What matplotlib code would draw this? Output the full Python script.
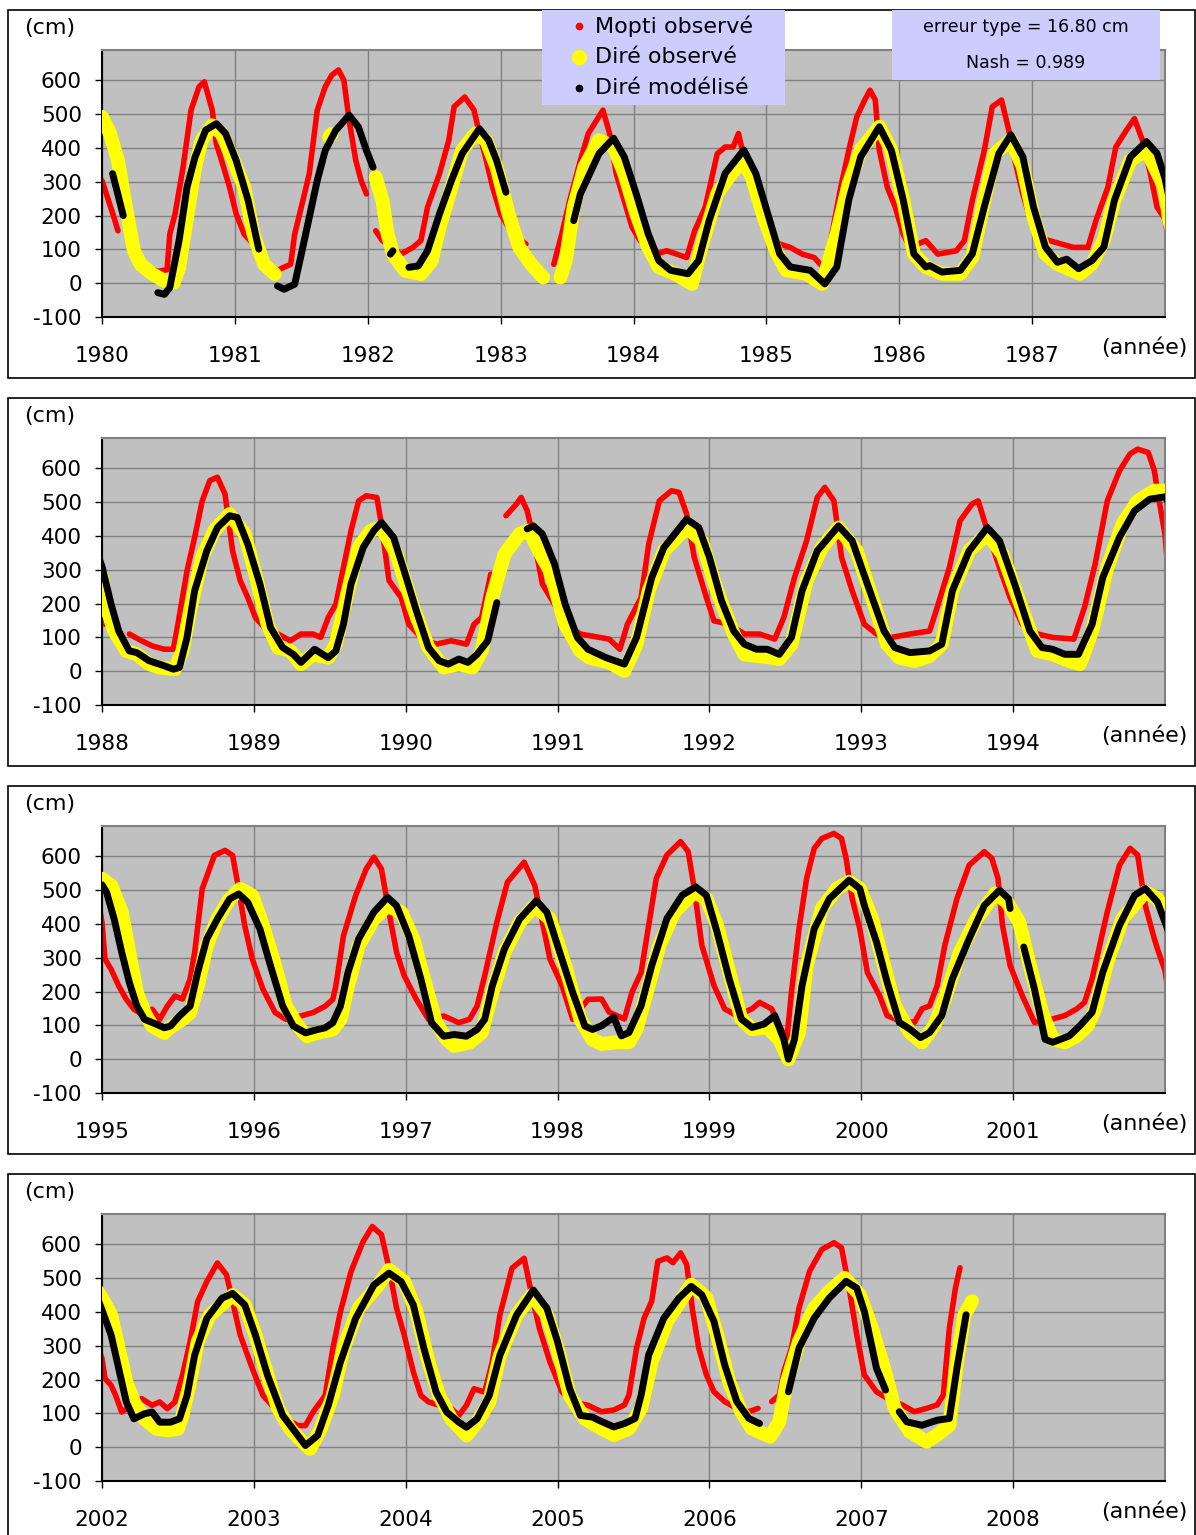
import numpy as np
import matplotlib.pyplot as plt
from matplotlib.patches import Rectangle
from matplotlib.lines import Line2D

plt.rcParams['axes.unicode_minus'] = False

# Water levels (cm): (decimal year, level); None marks a gap in the record
mopti_obs = [
    (1980.00, 304), (1980.09, 195), (1980.12, 155), None,
    (1980.35, 45), (1980.42, 35), (1980.49, 40), (1980.51, 145), (1980.55, 205), (1980.61, 343),
    (1980.67, 512), (1980.73, 581), (1980.77, 596), (1980.83, 512), (1980.86, 413), (1980.90, 363),
    (1980.96, 284), (1981.01, 205), (1981.07, 145), (1981.13, 120), None,
    (1981.34, 42), (1981.42, 56), (1981.45, 145), (1981.50, 225), (1981.56, 324), (1981.62, 512),
    (1981.68, 581), (1981.73, 616), (1981.78, 631), (1981.82, 601), (1981.86, 482), (1981.91, 363),
    (1981.95, 304), (1981.99, 264), None,
    (1982.06, 155), (1982.11, 126), (1982.25, 86), (1982.34, 106), (1982.40, 126), (1982.45, 225),
    (1982.54, 324), (1982.61, 423), (1982.65, 522), (1982.73, 551), (1982.80, 512), (1982.84, 442),
    (1982.88, 383), (1982.94, 284), (1983.00, 205), (1983.09, 145), (1983.19, 116), None,
    (1983.40, 56), (1983.46, 145), (1983.52, 245), (1983.60, 363), (1983.66, 443), (1983.77, 512),
    (1983.82, 443), (1983.87, 324), (1983.93, 245), (1983.99, 165), (1984.05, 126), (1984.17, 86),
    (1984.25, 96), (1984.40, 76), (1984.46, 155), (1984.54, 225), (1984.63, 383), (1984.69, 403),
    (1984.75, 403), (1984.79, 443), (1984.83, 374), (1984.89, 284), (1984.95, 205), (1985.01, 145),
    (1985.10, 116), (1985.18, 106), (1985.27, 86), (1985.36, 76), (1985.43, 46), (1985.47, 96),
    (1985.56, 284), (1985.62, 393), (1985.68, 492), (1985.74, 542), (1985.78, 571), (1985.82, 542),
    (1985.85, 393), (1985.91, 284), (1985.97, 225), (1986.03, 145), (1986.08, 106), (1986.20, 126),
    (1986.29, 86), (1986.43, 96), (1986.49, 126), (1986.55, 245), (1986.64, 393), (1986.70, 522),
    (1986.77, 542), (1986.83, 443), (1986.87, 363), (1986.93, 264), (1986.99, 185), (1987.04, 136),
    (1987.22, 116), (1987.31, 106), (1987.42, 106), (1987.48, 185), (1987.57, 284), (1987.63, 403),
    (1987.71, 453), (1987.77, 487), (1987.83, 423), (1987.89, 324), (1987.94, 225), (1988.00, 190),
    (1988.02, 139), None,
    (1988.18, 110), (1988.26, 90), (1988.33, 75), (1988.41, 65), (1988.47, 65), (1988.50, 139),
    (1988.56, 297), (1988.61, 396), (1988.66, 504), (1988.71, 564), (1988.76, 574), (1988.81, 524),
    (1988.86, 356), (1988.91, 268), (1988.96, 218), (1989.01, 159), (1989.09, 119), (1989.16, 110),
    (1989.24, 90), (1989.31, 110), (1989.39, 110), (1989.44, 100), (1989.49, 159), (1989.54, 198),
    (1989.59, 307), (1989.64, 416), (1989.69, 504), (1989.74, 519), (1989.81, 514), (1989.84, 435),
    (1989.89, 268), (1989.97, 218), (1990.02, 139), (1990.10, 100), (1990.20, 80), (1990.30, 90),
    (1990.40, 80), (1990.45, 139), (1990.50, 159), (1990.56, 287), None,
    (1990.66, 460), (1990.73, 495), (1990.76, 514), (1990.80, 475), (1990.85, 376), (1990.90, 258),
    (1990.98, 198), (1991.05, 139), (1991.15, 110), (1991.34, 95), (1991.41, 65), (1991.46, 139),
    (1991.55, 218), (1991.60, 376), (1991.67, 504), (1991.75, 534), (1991.80, 529), (1991.85, 465),
    (1991.90, 337), (1991.98, 218), (1992.03, 149), (1992.13, 139), (1992.23, 110), (1992.33, 110),
    (1992.43, 95), (1992.49, 159), (1992.56, 277), (1992.64, 386), (1992.71, 514), (1992.76, 544),
    (1992.82, 504), (1992.87, 337), (1992.94, 238), (1993.02, 139), (1993.10, 110), (1993.20, 100),
    (1993.32, 110), (1993.45, 119), (1993.50, 189), (1993.58, 307), (1993.65, 445), (1993.73, 495),
    (1993.77, 504), (1993.83, 416), (1993.91, 307), (1993.98, 218), (1994.06, 139), (1994.16, 110),
    (1994.26, 100), (1994.40, 95), (1994.47, 189), (1994.54, 317), (1994.62, 504), (1994.70, 593),
    (1994.77, 643), (1994.82, 657), (1994.89, 647), (1994.93, 593), (1994.95, 534), (1995.00, 405),
    (1995.02, 296), (1995.06, 266), (1995.11, 217), (1995.16, 177), (1995.21, 148), (1995.28, 128),
    (1995.33, 148), (1995.38, 118), (1995.43, 157), (1995.48, 187), (1995.53, 178), (1995.58, 237),
    (1995.61, 316), (1995.66, 504), (1995.74, 603), (1995.81, 618), (1995.86, 603), (1995.90, 504),
    (1995.94, 395), (1995.99, 296), (1996.06, 207), (1996.14, 138), (1996.21, 118), (1996.31, 128),
    (1996.39, 138), (1996.47, 157), (1996.52, 177), (1996.54, 217), (1996.59, 365), (1996.67, 484),
    (1996.74, 563), (1996.79, 598), (1996.84, 563), (1996.89, 435), (1996.94, 316), (1996.99, 247),
    (1997.07, 177), (1997.15, 118), (1997.25, 128), (1997.35, 108), (1997.42, 118), (1997.47, 157),
    (1997.52, 247), (1997.60, 405), (1997.67, 524), (1997.78, 583), (1997.85, 514), (1997.90, 405),
    (1997.95, 296), (1998.03, 217), (1998.10, 118), (1998.20, 177), (1998.29, 178), (1998.34, 139),
    (1998.44, 119), (1998.49, 198), (1998.55, 257), (1998.60, 396), (1998.65, 535), (1998.72, 604),
    (1998.81, 644), (1998.86, 614), (1998.90, 505), (1998.95, 337), (1999.03, 218), (1999.10, 149),
    (1999.18, 129), (1999.28, 149), (1999.33, 168), (1999.41, 149), (1999.46, 99), (1999.51, 59),
    (1999.54, 198), (1999.59, 386), (1999.64, 535), (1999.69, 624), (1999.74, 653), (1999.82, 668),
    (1999.87, 653), (1999.90, 594), (1999.94, 475), (1999.99, 386), (2000.04, 257), (2000.12, 188),
    (2000.17, 129), (2000.25, 114), (2000.35, 109), (2000.40, 149), (2000.45, 158), (2000.50, 218),
    (2000.55, 337), (2000.63, 475), (2000.71, 574), (2000.76, 594), (2000.81, 614), (2000.86, 594),
    (2000.90, 535), (2000.93, 396), (2000.98, 277), (2001.06, 188), (2001.14, 109), (2001.26, 119),
    (2001.34, 129), (2001.42, 149), (2001.47, 168), (2001.52, 238), (2001.57, 337), (2001.62, 436),
    (2001.70, 574), (2001.77, 624), (2001.82, 604), (2001.87, 455), (2001.93, 356), (2001.95, 327),
    (2002.00, 262), (2002.02, 203), (2002.06, 183), (2002.09, 153), (2002.13, 104), (2002.26, 144),
    (2002.33, 124), (2002.38, 134), (2002.43, 114), (2002.48, 134), (2002.53, 213), (2002.58, 312),
    (2002.63, 431), (2002.69, 490), (2002.76, 545), (2002.82, 510), (2002.86, 431), (2002.91, 332),
    (2002.99, 233), (2003.06, 153), (2003.14, 114), (2003.21, 84), (2003.29, 64), (2003.34, 64),
    (2003.39, 104), (2003.47, 153), (2003.52, 292), (2003.57, 401), (2003.64, 520), (2003.72, 609),
    (2003.78, 653), (2003.84, 629), (2003.89, 530), (2003.94, 411), (2003.99, 332), (2004.05, 223),
    (2004.10, 153), (2004.15, 134), (2004.22, 124), (2004.30, 114), (2004.35, 94), (2004.40, 124),
    (2004.45, 173), (2004.52, 163), (2004.57, 252), (2004.62, 391), (2004.70, 530), (2004.78, 559),
    (2004.83, 450), (2004.88, 352), (2004.95, 252), (2005.03, 163), (2005.10, 134), (2005.20, 124),
    (2005.29, 105), (2005.37, 110), (2005.44, 125), (2005.47, 154), (2005.52, 293), (2005.57, 382),
    (2005.62, 432), (2005.66, 550), (2005.72, 560), (2005.76, 546), (2005.81, 575), (2005.85, 541),
    (2005.89, 402), (2005.93, 293), (2005.98, 214), (2006.03, 164), (2006.10, 135), (2006.18, 115),
    (2006.26, 105), (2006.32, 115), None,
    (2006.41, 135), (2006.46, 154), (2006.49, 224), (2006.54, 293), (2006.59, 412), (2006.66, 521),
    (2006.74, 585), (2006.82, 605), (2006.87, 590), (2006.92, 471), (2006.97, 333), (2007.02, 214),
    (2007.10, 164), (2007.17, 145), (2007.27, 125), (2007.35, 105), (2007.43, 115), (2007.50, 125),
    (2007.54, 154), (2007.58, 352), (2007.62, 471), (2007.65, 531),
]

dire_obs = [
    (1980.00, 492), (1980.06, 443), (1980.12, 363), (1980.18, 225), (1980.24, 96), (1980.29, 56),
    (1980.38, 27), (1980.47, 7), (1980.54, 2), (1980.58, 46), (1980.64, 195), (1980.70, 343),
    (1980.75, 423), (1980.83, 467), (1980.90, 443), (1980.98, 373), (1981.07, 284), (1981.14, 145),
    (1981.22, 56), (1981.30, 27), None,
    (1981.71, 432), (1981.73, 442), None,
    (1982.06, 314), (1982.11, 245), (1982.15, 145), (1982.19, 86), (1982.28, 37), (1982.40, 27),
    (1982.48, 66), (1982.54, 165), (1982.63, 284), (1982.71, 393), (1982.81, 443), (1982.89, 423),
    (1982.97, 343), (1983.06, 205), (1983.14, 106), (1983.23, 56), (1983.32, 17), None,
    (1983.45, 17), (1983.49, 66), (1983.55, 225), (1983.63, 343), (1983.74, 423), (1983.85, 404),
    (1983.93, 325), (1984.02, 206), (1984.11, 107), (1984.19, 48), (1984.31, 28), (1984.44, -2),
    (1984.51, 107), (1984.63, 265), (1984.72, 315), (1984.82, 364), (1984.89, 315), (1984.98, 196),
    (1985.07, 97), (1985.15, 38), (1985.30, 28), (1985.42, -2), (1985.53, 147), (1985.62, 295),
    (1985.71, 394), (1985.85, 463), (1985.94, 394), (1986.03, 246), (1986.11, 87), (1986.20, 48),
    (1986.32, 28), (1986.46, 28), (1986.55, 77), (1986.64, 246), (1986.72, 384), (1986.84, 424),
    (1986.93, 345), (1987.01, 196), (1987.10, 87), (1987.19, 57), (1987.36, 28), (1987.45, 57),
    (1987.54, 127), (1987.62, 246), (1987.74, 364), (1987.86, 394), (1987.92, 345), (1988.00, 280),
    (1988.03, 189), (1988.08, 119), (1988.16, 60), (1988.23, 50), (1988.31, 21), (1988.38, 11),
    (1988.48, 6), (1988.53, 60), (1988.58, 179), (1988.66, 337), (1988.74, 416), (1988.84, 465),
    (1988.94, 406), (1989.01, 287), (1989.09, 139), (1989.16, 70), (1989.24, 60), (1989.31, 21),
    (1989.39, 50), (1989.49, 40), (1989.54, 80), (1989.62, 238), (1989.69, 366), (1989.77, 416),
    (1989.84, 425), (1989.94, 346), (1990.05, 189), (1990.15, 70), (1990.25, 11), (1990.35, 21),
    (1990.44, 11), (1990.50, 60), (1990.57, 218), (1990.65, 346), (1990.75, 406), (1990.81, 416),
    (1990.90, 337), (1990.95, 297), (1991.05, 139), (1991.15, 60), (1991.21, 40), (1991.34, 26),
    (1991.44, 1), (1991.52, 80), (1991.60, 238), (1991.70, 356), (1991.85, 425), (1991.95, 386),
    (1992.05, 238), (1992.16, 110), (1992.23, 50), (1992.31, 45), (1992.41, 40), (1992.46, 36),
    (1992.54, 80), (1992.64, 268), (1992.74, 366), (1992.85, 425), (1992.97, 356), (1993.07, 218),
    (1993.17, 80), (1993.25, 40), (1993.35, 30), (1993.45, 45), (1993.53, 80), (1993.60, 238),
    (1993.71, 356), (1993.83, 406), (1993.93, 346), (1994.04, 208), (1994.16, 60), (1994.26, 50),
    (1994.37, 30), (1994.44, 21), (1994.52, 119), (1994.62, 307), (1994.72, 435), (1994.82, 504),
    (1994.93, 534), (1995.00, 534), (1995.06, 514), (1995.13, 435), (1995.18, 316), (1995.23, 197),
    (1995.28, 138), (1995.33, 98), (1995.41, 78), (1995.46, 98), (1995.53, 118), (1995.58, 138),
    (1995.63, 217), (1995.69, 336), (1995.76, 415), (1995.84, 474), (1995.91, 504), (1995.99, 484),
    (1996.06, 395), (1996.14, 276), (1996.21, 157), (1996.29, 98), (1996.35, 68), (1996.42, 78),
    (1996.52, 88), (1996.57, 118), (1996.62, 217), (1996.69, 336), (1996.79, 415), (1996.88, 454),
    (1996.97, 435), (1997.05, 356), (1997.12, 237), (1997.20, 108), (1997.27, 58), (1997.32, 39),
    (1997.42, 49), (1997.50, 78), (1997.57, 197), (1997.65, 316), (1997.75, 405), (1997.85, 454),
    (1997.95, 415), (1998.05, 276), (1998.15, 118), (1998.23, 58), (1998.29, 45), (1998.39, 50),
    (1998.47, 50), (1998.52, 89), (1998.60, 218), (1998.67, 337), (1998.77, 436), (1998.90, 495),
    (1998.98, 475), (1999.05, 396), (1999.13, 257), (1999.21, 119), (1999.28, 89), (1999.38, 94),
    (1999.46, 59), (1999.52, 0), (1999.59, 79), (1999.64, 277), (1999.74, 446), (1999.84, 505),
    (1999.92, 525), (1999.99, 505), (2000.07, 416), (2000.15, 277), (2000.22, 158), (2000.32, 79),
    (2000.40, 50), (2000.48, 99), (2000.55, 178), (2000.65, 317), (2000.76, 416), (2000.88, 490),
    (2000.96, 465), (2001.04, 406), (2001.11, 277), (2001.19, 139), (2001.26, 59), (2001.34, 50),
    (2001.42, 69), (2001.49, 99), (2001.54, 149), (2001.62, 287), (2001.72, 416), (2001.87, 495),
    (2001.95, 475), (2002.00, 441), (2002.06, 391), (2002.11, 292), (2002.16, 193), (2002.21, 134),
    (2002.28, 84), (2002.36, 54), (2002.43, 50), (2002.50, 54), (2002.53, 94), (2002.58, 193),
    (2002.63, 312), (2002.71, 391), (2002.86, 450), (2002.94, 421), (2003.01, 332), (2003.09, 213),
    (2003.16, 114), (2003.24, 54), (2003.31, 20), (2003.37, -5), (2003.44, 54), (2003.52, 153),
    (2003.59, 292), (2003.69, 411), (2003.82, 480), (2003.89, 525), (2003.99, 490), (2004.07, 401),
    (2004.15, 252), (2004.22, 153), (2004.30, 84), (2004.40, 35), (2004.47, 74), (2004.55, 134),
    (2004.62, 272), (2004.73, 391), (2004.83, 450), (2004.93, 391), (2005.00, 292), (2005.08, 153),
    (2005.18, 84), (2005.29, 55), (2005.37, 36), (2005.47, 55), (2005.55, 115), (2005.62, 253),
    (2005.72, 372), (2005.88, 481), (2005.98, 442), (2006.05, 333), (2006.13, 194), (2006.21, 105),
    (2006.28, 55), (2006.40, 31), (2006.46, 75), (2006.51, 194), (2006.59, 313), (2006.69, 412),
    (2006.79, 461), (2006.89, 501), (2006.99, 451), (2007.07, 352), (2007.15, 234), (2007.22, 115),
    (2007.32, 46), (2007.43, 16), (2007.50, 36), (2007.58, 65), (2007.63, 253), (2007.68, 392),
    (2007.73, 432),
]

dire_model = [
    (1980.08, 324), (1980.16, 200), None,
    (1980.42, -28), (1980.47, -33), (1980.51, -13), (1980.58, 126), (1980.64, 284), (1980.70, 373),
    (1980.78, 453), (1980.86, 472), (1980.93, 443), (1981.01, 363), (1981.10, 245), (1981.18, 101), None,
    (1981.32, -8), (1981.37, -18), (1981.45, -3), (1981.50, 86), (1981.56, 195), (1981.62, 304),
    (1981.68, 393), (1981.76, 453), (1981.86, 497), (1981.93, 462), (1981.99, 393), (1982.04, 343), None,
    (1982.17, 86), (1982.19, 96), None,
    (1982.31, 47), (1982.38, 51), (1982.45, 96), (1982.54, 205), (1982.63, 304), (1982.71, 383),
    (1982.84, 457), (1982.91, 423), (1982.97, 363), (1983.04, 269), None,
    (1983.55, 185), (1983.60, 264), (1983.74, 383), (1983.85, 429), (1983.93, 374), (1984.02, 265),
    (1984.11, 147), (1984.19, 67), (1984.28, 38), (1984.41, 28), (1984.49, 67), (1984.57, 186),
    (1984.69, 325), (1984.83, 394), (1984.92, 325), (1985.01, 206), (1985.10, 87), (1985.18, 48),
    (1985.33, 38), (1985.44, -2), (1985.53, 48), (1985.62, 246), (1985.71, 374), (1985.85, 463),
    (1985.94, 394), (1986.03, 246), (1986.11, 87), (1986.20, 48), (1986.23, 52), (1986.32, 33),
    (1986.46, 38), (1986.55, 87), (1986.64, 226), (1986.75, 384), (1986.84, 439), (1986.93, 374),
    (1987.01, 226), (1987.10, 107), (1987.19, 62), (1987.26, 71), (1987.35, 43), (1987.45, 67),
    (1987.54, 107), (1987.62, 246), (1987.74, 374), (1987.86, 419), (1987.94, 384), (1988.00, 310),
    (1988.06, 198), (1988.11, 119), (1988.18, 60), (1988.23, 55), (1988.31, 31), (1988.41, 16),
    (1988.47, 6), (1988.51, 11), (1988.56, 100), (1988.61, 238), (1988.69, 356), (1988.76, 425),
    (1988.84, 460), (1988.89, 455), (1988.96, 376), (1989.04, 258), (1989.11, 129), (1989.19, 70),
    (1989.26, 50), (1989.31, 26), (1989.40, 65), (1989.49, 40), (1989.54, 60), (1989.59, 139),
    (1989.64, 258), (1989.72, 366), (1989.79, 416), (1989.84, 440), (1989.92, 396), (1989.99, 297),
    (1990.07, 179), (1990.15, 70), (1990.22, 31), (1990.28, 21), (1990.35, 36), (1990.41, 26),
    (1990.47, 50), (1990.54, 90), (1990.60, 203), None,
    (1990.80, 421), (1990.84, 430), (1990.90, 406), (1990.98, 317), (1991.05, 198), (1991.13, 100),
    (1991.20, 65), (1991.32, 40), (1991.44, 21), (1991.52, 100), (1991.62, 277), (1991.70, 366),
    (1991.85, 450), (1991.93, 425), (1992.00, 337), (1992.08, 208), (1992.16, 119), (1992.23, 80),
    (1992.31, 65), (1992.38, 65), (1992.46, 50), (1992.54, 100), (1992.61, 238), (1992.71, 356),
    (1992.85, 430), (1992.94, 386), (1993.04, 258), (1993.15, 119), (1993.22, 70), (1993.32, 55),
    (1993.45, 60), (1993.53, 80), (1993.60, 238), (1993.71, 356), (1993.83, 425), (1993.91, 386),
    (1994.01, 258), (1994.11, 119), (1994.19, 70), (1994.26, 65), (1994.34, 50), (1994.43, 50),
    (1994.52, 139), (1994.59, 277), (1994.70, 396), (1994.80, 475), (1994.90, 509), (1995.00, 516),
    (1995.03, 494), (1995.08, 415), (1995.13, 316), (1995.18, 227), (1995.23, 157), (1995.28, 118),
    (1995.36, 103), (1995.41, 93), (1995.45, 98), (1995.51, 128), (1995.58, 157), (1995.63, 257),
    (1995.69, 356), (1995.76, 415), (1995.84, 474), (1995.90, 489), (1995.96, 464), (1996.04, 385),
    (1996.11, 276), (1996.19, 157), (1996.26, 98), (1996.34, 78), (1996.42, 88), (1996.47, 93),
    (1996.52, 108), (1996.57, 157), (1996.62, 257), (1996.69, 356), (1996.79, 435), (1996.88, 479),
    (1996.94, 454), (1997.02, 365), (1997.10, 237), (1997.17, 108), (1997.25, 68), (1997.32, 73),
    (1997.40, 68), (1997.47, 88), (1997.52, 118), (1997.57, 217), (1997.65, 326), (1997.75, 415),
    (1997.86, 469), (1997.93, 435), (1998.00, 336), (1998.10, 197), (1998.18, 98), (1998.23, 88),
    (1998.29, 99), (1998.37, 124), (1998.42, 69), (1998.47, 79), (1998.55, 158), (1998.62, 277),
    (1998.72, 416), (1998.82, 485), (1998.91, 510), (1998.98, 485), (1999.05, 376), (1999.13, 238),
    (1999.21, 119), (1999.28, 94), (1999.36, 104), (1999.43, 129), (1999.49, 59), (1999.52, 0),
    (1999.56, 59), (1999.61, 218), (1999.69, 386), (1999.79, 475), (1999.92, 530), (1999.99, 505),
    (2000.02, 455), (2000.10, 347), (2000.17, 228), (2000.25, 109), (2000.32, 89), (2000.39, 64),
    (2000.45, 79), (2000.53, 129), (2000.60, 238), (2000.71, 356), (2000.81, 455), (2000.91, 500),
    (2000.97, 475), (2000.98, 446), None,
    (2001.07, 332), (2001.14, 208), (2001.21, 59), (2001.26, 50), (2001.37, 69), (2001.44, 99),
    (2001.52, 139), (2001.59, 257), (2001.70, 396), (2001.80, 485), (2001.87, 505), (2001.95, 465),
    (2002.00, 406), (2002.06, 332), (2002.11, 233), (2002.16, 134), (2002.21, 84), (2002.28, 99),
    (2002.33, 104), (2002.38, 74), (2002.45, 74), (2002.51, 84), (2002.56, 153), (2002.61, 272),
    (2002.69, 381), (2002.79, 441), (2002.86, 455), (2002.94, 421), (2003.01, 332), (2003.09, 213),
    (2003.19, 94), (2003.29, 35), (2003.34, 5), (2003.42, 35), (2003.49, 124), (2003.57, 252),
    (2003.67, 381), (2003.79, 480), (2003.89, 515), (2003.97, 490), (2004.05, 421), (2004.12, 292),
    (2004.20, 163), (2004.27, 104), (2004.35, 74), (2004.40, 59), (2004.47, 84), (2004.55, 153),
    (2004.62, 272), (2004.73, 391), (2004.84, 465), (2004.93, 411), (2005.00, 312), (2005.08, 173),
    (2005.15, 94), (2005.23, 89), (2005.27, 80), (2005.37, 60), (2005.44, 70), (2005.51, 85),
    (2005.55, 154), (2005.60, 273), (2005.70, 382), (2005.80, 442), (2005.88, 476), (2005.95, 451),
    (2006.03, 372), (2006.10, 244), (2006.18, 135), (2006.26, 85), (2006.33, 70), None,
    (2006.52, 164), (2006.59, 293), (2006.69, 382), (2006.79, 442), (2006.90, 491), (2006.97, 471),
    (2007.02, 402), (2007.10, 234), (2007.16, 169), None,
    (2007.25, 105), (2007.30, 75), (2007.40, 65), (2007.50, 80), (2007.58, 85), (2007.63, 234),
    (2007.69, 392),
]

# one panel per period (first year shown, end of axis)
panel_years = [(1980, 1988), (1988, 1995), (1995, 2002), (2002, 2009)]
y_ticks = [-100, 0, 100, 200, 300, 400, 500, 600]

legend_labels = ['Mopti observé', 'Diré observé', 'Diré modélisé']
stats_lines = ['erreur type = 16.80 cm', 'Nash = 0.989']


def to_xy(pairs):
    t = np.array([np.nan if p is None else p[0] for p in pairs])
    v = np.array([np.nan if p is None else p[1] for p in pairs])
    return t, v


W, H = 1196, 1535
fig = plt.figure(figsize=(W / 100, H / 100), dpi=100)


def fx(px):
    return px / W


def fy(py):
    return 1 - py / H


series = [
    (to_xy(mopti_obs), '#ff0000', 4.0, 2),
    (to_xy(dire_obs), '#ffff00', 10.0, 3),
    (to_xy(dire_model), '#000000', 5.0, 4),
]

step = 388
for i, (y0, y1) in enumerate(panel_years):
    top = 50 + step * i
    bottom = 317 + step * i

    # outer frame of the panel
    fig.patches.append(Rectangle((fx(8), fy(378 + step * i)), fx(1195) - fx(8), 368 / H,
                                 transform=fig.transFigure, fill=False,
                                 edgecolor='black', lw=1.2, zorder=1))

    ax = fig.add_axes([fx(102), fy(bottom), fx(1165) - fx(102), (bottom - top) / H])
    ax.set_facecolor('#c0c0c0')
    for (t, v), col, lw, z in series:
        ax.plot(t, v, color=col, lw=lw, solid_capstyle='round',
                solid_joinstyle='round', zorder=z)

    ax.set_xlim(y0, y1)
    ax.set_ylim(-100, 690)
    ax.set_xticks(list(range(y0, y1)))
    ax.set_yticks(y_ticks)
    ax.grid(True, color='#808080', lw=1.0, zorder=1)
    ax.set_axisbelow(True)
    ax.tick_params(axis='x', direction='out', length=5, width=1, pad=16, labelsize=15.5)
    ax.tick_params(axis='y', direction='out', length=5, width=1, pad=9.5, labelsize=15.5)
    for s in ['left', 'bottom']:
        ax.spines[s].set_color('black')
        ax.spines[s].set_linewidth(1.5)
    for s in ['top', 'right']:
        ax.spines[s].set_color('#808080')
        ax.spines[s].set_linewidth(1.5)

    fig.text(fx(50), fy(28 + step * i), '(cm)', fontsize=16, ha='center', va='center')
    fig.text(fx(1144), fy(348 + step * i), '(année)', fontsize=16, ha='center', va='center')

# legend box
fig.patches.append(Rectangle((fx(542), fy(105)), fx(785) - fx(542), 95 / H,
                             transform=fig.transFigure, facecolor='#ccccff',
                             edgecolor='none', zorder=5))
leg_style = [('#ff0000', 4.5), ('#ffff00', 10), ('#000000', 4.5)]
for k, (lab, (col, ms)) in enumerate(zip(legend_labels, leg_style)):
    yy = fy(26 + 31 * k)
    fig.add_artist(Line2D([fx(579)], [yy], transform=fig.transFigure, marker='o',
                          ls='none', color=col, ms=ms, zorder=6))
    fig.text(fx(595), yy, lab, fontsize=16, ha='left', va='center', zorder=6)

# statistics box
fig.patches.append(Rectangle((fx(892), fy(80)), fx(1160) - fx(892), 70 / H,
                             transform=fig.transFigure, facecolor='#ccccff',
                             edgecolor='none', zorder=5))
fig.text(fx(1026), fy(27), stats_lines[0], fontsize=12.5, ha='center', va='center', zorder=6)
fig.text(fx(1026), fy(63), stats_lines[1], fontsize=12.5, ha='center', va='center', zorder=6)

fig.savefig('out.png', dpi=100)
